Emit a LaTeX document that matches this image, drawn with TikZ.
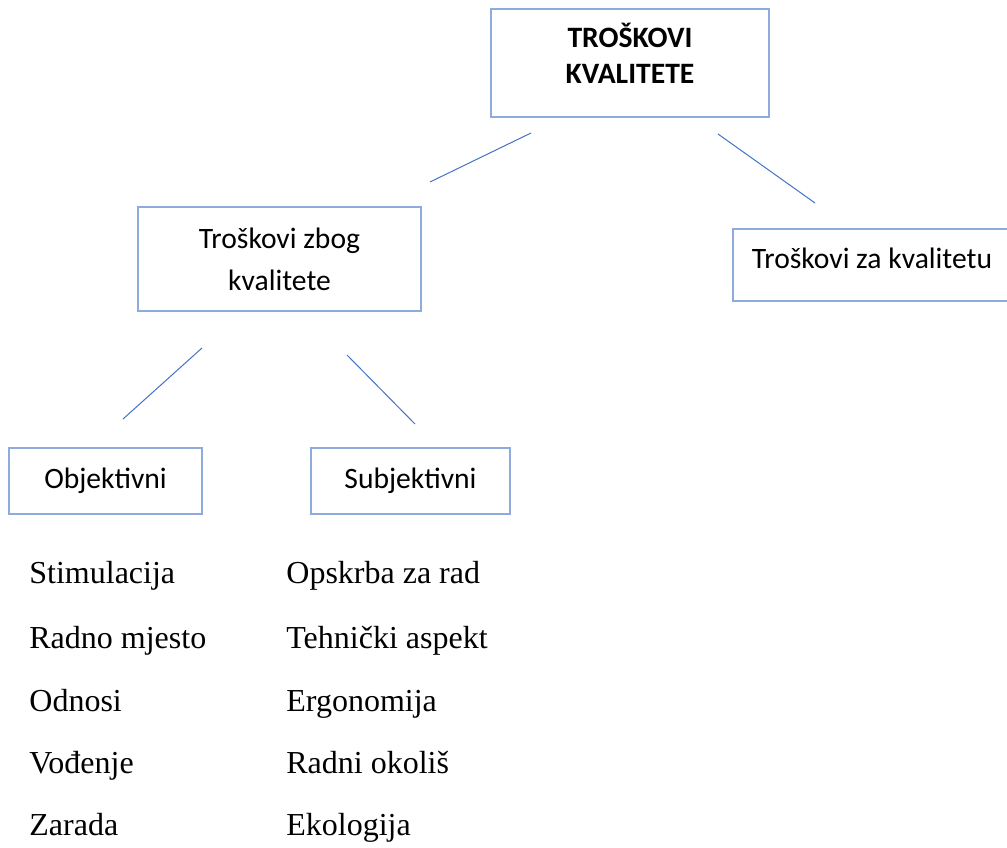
\documentclass[tikz,border=0pt]{standalone}
\usepackage{fontspec}
\setmainfont{Liberation Serif}
\newfontfamily\boxfont{Carlito}
\usepackage{tikz}
\usetikzlibrary{shapes.geometric}
\definecolor{boxblue}{RGB}{143,170,220}
\definecolor{lineblue}{RGB}{68,114,196}
\tikzstyle{box} = [rectangle, draw=boxblue, line width=0.6pt, align=center, inner sep=0pt, font=\boxfont\fontsize{14.8}{21}\selectfont]
\tikzstyle{branch} = [draw=lineblue, line width=0.5pt]
\tikzstyle{item} = [anchor=base west, inner sep=0pt, font=\fontsize{16}{19}\selectfont]

\begin{document}
\begin{tikzpicture}[x=0.5pt, y=-0.5pt]
\useasboundingbox (0,0) rectangle (1007,847);
% boxes
\node (1) [box, minimum width=139pt, minimum height=54pt, text depth=10pt, font=\boxfont\bfseries\fontsize{14.8}{18}\selectfont] at (630,63) {TROŠKOVI\\KVALITETE};
\node (2) [box, minimum width=141.5pt, minimum height=52pt] at (279.5,259) {Troškovi zbog\\kvalitete};
\node (3) [box, minimum width=139pt, minimum height=36pt, text depth=7pt] at (872,265) {Troškovi za kvalitetu};
\node (4) [box, minimum width=96.5pt, minimum height=33pt] at (105.5,481) {Objektivni};
\node (5) [box, minimum width=99.5pt, minimum height=33pt] at (410.5,481) {Subjektivni};
% line ends
\coordinate (1l) at (531,133);
\coordinate (2t) at (430,182);
\coordinate (1r) at (718,134);
\coordinate (3t) at (815,203);
\coordinate (2l) at (202,348);
\coordinate (4t) at (123,419);
\coordinate (2r) at (347,355);
\coordinate (5t) at (415,424);
\draw [branch] (1l) -- (2t);
\draw [branch] (1r) -- (3t);
\draw [branch] (2l) -- (4t);
\draw [branch] (2r) -- (5t);
% lists
\node (o1) [item] at (29,583) {Stimulacija};
\node (o2) [item] at (29,648) {Radno mjesto};
\node (o3) [item] at (29,711) {Odnosi};
\node (o4) [item] at (29,773) {Vođenje};
\node (o5) [item] at (29,835) {Zarada};
\node (s1) [item] at (286,583) {Opskrba za rad};
\node (s2) [item] at (286,648) {Tehnički aspekt};
\node (s3) [item] at (286,711) {Ergonomija};
\node (s4) [item] at (286,773) {Radni okoliš};
\node (s5) [item] at (286,835) {Ekologija};
\end{tikzpicture}
\end{document}
